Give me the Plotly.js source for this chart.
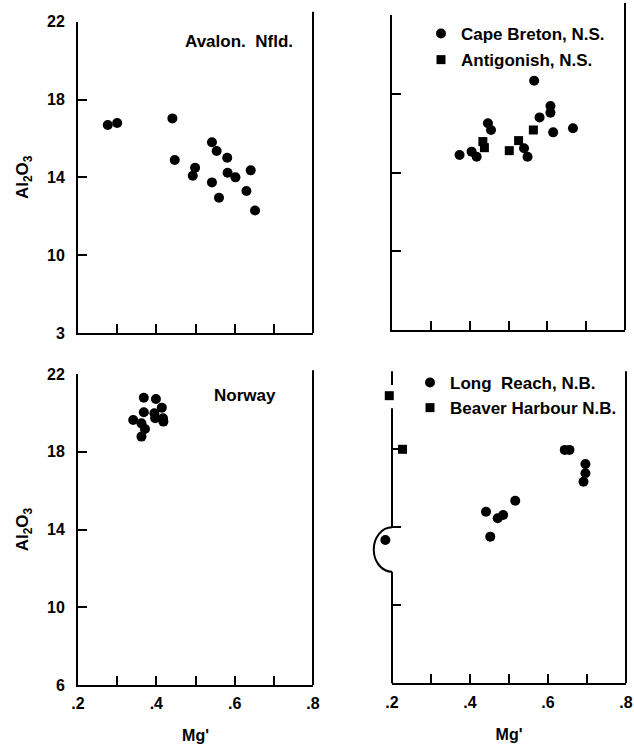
<!DOCTYPE html>
<html>
<head>
<meta charset="utf-8">
<script src="https://cdn.plot.ly/plotly-3.0.1.min.js"></script>
<style>html,body{margin:0;padding:0;background:#fff;}#chart{width:634px;height:749px;}</style>
</head>
<body>
<div id="chart"></div>
<script>
// ---- data ----
const avalonMg = [0.276, 0.300, 0.441, 0.447, 0.499, 0.493, 0.542, 0.554, 0.581, 0.542, 0.560, 0.582, 0.602, 0.641, 0.630, 0.652];
const avalonAl = [16.69, 16.79, 17.03, 14.89, 14.49, 14.08, 15.80, 15.35, 15.01, 13.74, 12.95, 14.24, 14.00, 14.36, 13.30, 12.30];

const capeBretonMg = [0.374, 0.405, 0.418, 0.447, 0.455, 0.540, 0.549, 0.566, 0.580, 0.608, 0.608, 0.615, 0.666];
const capeBretonAl = [14.89, 15.06, 14.80, 16.50, 16.16, 15.23, 14.80, 18.66, 16.80, 17.38, 17.04, 16.04, 16.25];
const antigonishMg = [0.434, 0.438, 0.502, 0.526, 0.564];
const antigonishAl = [15.57, 15.26, 15.11, 15.62, 16.16];

const norwayMg = [0.368, 0.399, 0.414, 0.417, 0.395, 0.368, 0.341, 0.362, 0.371, 0.362, 0.397, 0.418];
const norwayAl = [20.78, 20.71, 20.27, 19.72, 19.98, 20.03, 19.63, 19.46, 19.17, 18.78, 19.72, 19.55];

const longReachMg = [0.183, 0.441, 0.452, 0.471, 0.485, 0.516, 0.643, 0.655, 0.696, 0.696, 0.691];
const longReachAl = [13.35, 14.80, 13.52, 14.46, 14.63, 15.36, 17.97, 17.97, 17.25, 16.77, 16.34];
const beaverHarbourMg = [0.193, 0.227];
const beaverHarbourAl = [20.75, 18.00];

const xTickVals = [0.2, 0.4, 0.6, 0.8];
const xTickText = ['.2', '.4', '.6', '.8'];
const yTickVals = [6, 10, 14, 18, 22];
const yTickTextTop = ['3', '10', '14', '18', '22'];
const yTickTextBottom = ['6', '10', '14', '18', '22'];

const xLabel = "Mg'";
const yLabel = 'Al<sub>2</sub>O<sub>3</sub>';

// ---- styling / layout ----
const W = 634, H = 749;
const FONT = 'Liberation Sans, Arial, sans-serif';
const ink = '#000';
const px = v => v / W;
const py = v => (H - v) / H;
const X_RANGE = [0.2, 0.8];

function xAxis(dom, anchor, labels) {
  const a = {
    domain: dom, anchor: anchor, range: X_RANGE, fixedrange: true,
    showline: true, linewidth: 2, linecolor: ink, mirror: false,
    showgrid: false, zeroline: false,
    ticks: 'inside', ticklen: 9, tickwidth: 2, tickcolor: ink,
    tickmode: 'array', tickvals: xTickVals, ticktext: xTickText,
    minor: {ticks: 'inside', ticklen: 9, tickwidth: 2, tickcolor: ink, tick0: 0.2, dtick: 0.1, showgrid: false},
    showticklabels: labels, ticklabelstandoff: 3,
    tickfont: {family: FONT, size: 16, color: ink, weight: 'bold'}
  };
  if (labels) a.title = {text: xLabel, standoff: 19, font: {family: FONT, size: 16, color: ink, weight: 'bold'}};
  return a;
}
function yAxis(dom, anchor, labels, text, line) {
  const a = {
    domain: dom, anchor: anchor, range: [6, 22], fixedrange: true,
    showline: line, linewidth: 2, linecolor: ink,
    showgrid: false, zeroline: false,
    ticks: 'inside', ticklen: 9, tickwidth: 2, tickcolor: ink,
    tickmode: 'array', tickvals: yTickVals, ticktext: text || yTickVals.map(String),
    showticklabels: labels, ticklabelstandoff: 8,
    tickfont: {family: FONT, size: 16, color: ink, weight: 'bold'}
  };
  if (labels) a.title = {text: yLabel, standoff: 14, font: {family: FONT, size: 17, color: ink, weight: 'bold'}};
  return a;
}

const circ = {symbol: 'circle', size: 10, color: ink};
const sq = {symbol: 'square', size: 9, color: ink};

// lower-right panel: visible axes are x4/y4 (.2 at 392px); the points sit on a hidden twin
// subplot x5/y5 whose range starts further left, so the two points left of .2 are drawn.
const brLeft = 392, brRight = 626, twinLeft = 366;
const twinStart = X_RANGE[0] - (brLeft - twinLeft) / (brRight - brLeft) * (X_RANGE[1] - X_RANGE[0]);

const traces = [
  {x: avalonMg, y: avalonAl, xaxis: 'x', yaxis: 'y', mode: 'markers', marker: circ, showlegend: false, name: 'Avalon. Nfld.'},
  {x: capeBretonMg, y: capeBretonAl, xaxis: 'x2', yaxis: 'y2', mode: 'markers', marker: circ, name: 'Cape Breton, N.S.', legend: 'legend', legendgroup: 'a'},
  {x: antigonishMg, y: antigonishAl, xaxis: 'x2', yaxis: 'y2', mode: 'markers', marker: sq, name: 'Antigonish, N.S.', legend: 'legend', legendgroup: 'b'},
  {x: norwayMg, y: norwayAl, xaxis: 'x3', yaxis: 'y3', mode: 'markers', marker: circ, showlegend: false, name: 'Norway'},
  // empty trace so that the x4/y4 frame (axes only) is created
  {x: [], y: [], xaxis: 'x4', yaxis: 'y4', mode: 'markers', showlegend: false, hoverinfo: 'skip', name: 'frame'},
  {x: longReachMg, y: longReachAl, xaxis: 'x5', yaxis: 'y5', mode: 'markers', marker: circ, name: 'Long  Reach, N.B.', legend: 'legend2', cliponaxis: false},
  {x: beaverHarbourMg, y: beaverHarbourAl, xaxis: 'x5', yaxis: 'y5', mode: 'markers', marker: sq, name: 'Beaver Harbour N.B.', legend: 'legend2', cliponaxis: false}
];

// broken left axis of the lower-right panel (in its domain units)
const yd = v => (v - 6) / 16;
const bumpTop = 14.0, bumpBot = 11.72, bumpRx = -0.078;
const cy = (bumpTop + bumpBot) / 2, ry = (bumpTop - bumpBot) / 2, k = 0.5523;
const bumpPath = 'M 0,' + yd(bumpTop) +
  ' C ' + (k * bumpRx) + ',' + yd(bumpTop) + ' ' + bumpRx + ',' + yd(cy + k * ry) + ' ' + bumpRx + ',' + yd(cy) +
  ' C ' + bumpRx + ',' + yd(cy - k * ry) + ' ' + (k * bumpRx) + ',' + yd(bumpBot) + ' 0,' + yd(bumpBot);

const lineStyle = {color: ink, width: 2};
const shapes = [
  // right-hand border lines
  {type: 'line', xref: 'x domain', yref: 'y domain', x0: 1, x1: 1, y0: 0, y1: 1.032, line: lineStyle},
  {type: 'line', xref: 'x2 domain', yref: 'y2 domain', x0: 1, x1: 1, y0: 0, y1: 1.038, line: lineStyle},
  {type: 'line', xref: 'x3 domain', yref: 'y3 domain', x0: 1, x1: 1, y0: 0, y1: 1.012, line: lineStyle},
  {type: 'line', xref: 'x4 domain', yref: 'y4 domain', x0: 1, x1: 1, y0: 0, y1: 1.0, line: lineStyle},
  // broken y axis segments, lower right
  {type: 'line', xref: 'x4 domain', yref: 'y4 domain', x0: 0, x1: 0, y0: yd(21.3), y1: 1, line: lineStyle},
  {type: 'line', xref: 'x4 domain', yref: 'y4 domain', x0: 0, x1: 0, y0: yd(bumpTop), y1: yd(20.1), line: lineStyle},
  {type: 'path', xref: 'x4 domain', yref: 'y4 domain', path: bumpPath, line: lineStyle},
  {type: 'line', xref: 'x4 domain', yref: 'y4 domain', x0: 0, x1: 0, y0: 0, y1: yd(bumpBot), line: lineStyle}
];

const annFont = {family: FONT, size: 17, color: ink, weight: 'bold'};
const annotations = [
  {text: 'Avalon.  Nfld.', xref: 'x domain', yref: 'y domain', x: 0.685, y: 0.935, xanchor: 'center', yanchor: 'middle', showarrow: false, font: annFont},
  {text: 'Norway', xref: 'x3 domain', yref: 'y3 domain', x: 0.71, y: 0.932, xanchor: 'center', yanchor: 'middle', showarrow: false, font: annFont}
];

const legFont = {family: FONT, size: 17, color: ink, weight: 'bold'};
const hidden = {visible: false, showgrid: false, zeroline: false, fixedrange: true};
const layout = {
  width: W, height: H,
  margin: {l: 0, r: 0, t: 0, b: 0},
  paper_bgcolor: '#fff', plot_bgcolor: 'rgba(0,0,0,0)',
  font: {family: FONT, color: ink},
  xaxis: xAxis([px(78), px(313)], 'y', false),
  yaxis: yAxis([py(333), py(21.7)], 'x', true, yTickTextTop, true),
  xaxis2: xAxis([px(392), px(625)], 'y2', false),
  yaxis2: yAxis([py(330), py(15)], 'x2', false, null, true),
  xaxis3: xAxis([px(78), px(313)], 'y3', true),
  yaxis3: yAxis([py(685), py(374)], 'x3', true, yTickTextBottom, true),
  xaxis4: xAxis([px(brLeft), px(brRight)], 'y4', true),
  yaxis4: yAxis([py(683.3), py(371.3)], 'x4', false, null, false),
  xaxis5: Object.assign({}, hidden, {domain: [px(twinLeft), px(brRight)], range: [twinStart, X_RANGE[1]], anchor: 'y5'}),
  yaxis5: Object.assign({}, hidden, {domain: [py(683.3), py(371.3)], range: [6, 22], anchor: 'x5'}),
  legend: {x: px(421), y: py(16), xanchor: 'left', yanchor: 'top', bgcolor: 'rgba(0,0,0,0)', borderwidth: 0,
           font: legFont, tracegroupgap: 1, itemwidth: 30},
  legend2: {x: px(410), y: py(365), xanchor: 'left', yanchor: 'top', bgcolor: 'rgba(0,0,0,0)', borderwidth: 0,
            font: legFont, tracegroupgap: 0, itemwidth: 30},
  shapes: shapes,
  annotations: annotations,
  showlegend: true
};

Plotly.newPlot('chart', traces, layout, {displayModeBar: false, staticPlot: true});
</script>
</body>
</html>
